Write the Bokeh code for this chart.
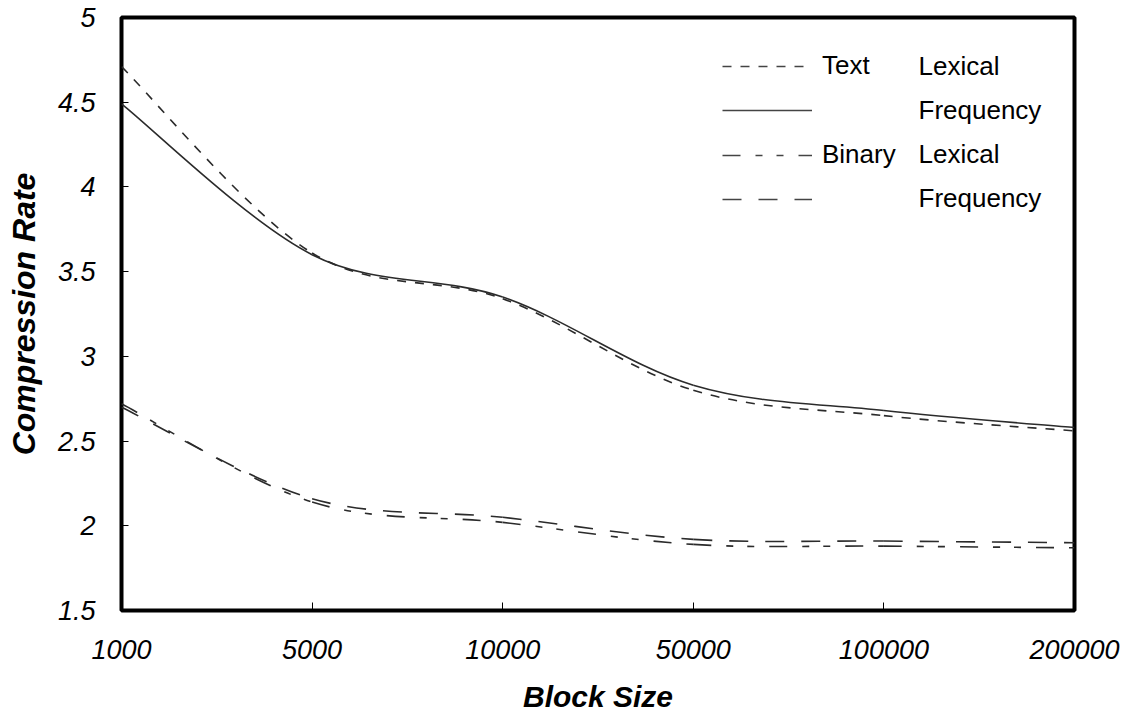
from bokeh.plotting import figure
from bokeh.models import (ColumnDataSource, Range1d, FixedTicker, Legend, LegendItem,
                          Label)
from bokeh.embed import file_html
from bokeh.resources import INLINE

# Block sizes (evenly spaced categories on the x axis)
block_sizes = ["1000", "5000", "10000", "50000", "100000", "200000"]

# Compression rate per block size
text_lexical = [4.71, 3.61, 3.34, 2.80, 2.65, 2.56]
text_frequency = [4.49, 3.60, 3.35, 2.83, 2.68, 2.58]
binary_lexical = [2.72, 2.14, 2.02, 1.89, 1.88, 1.87]
binary_frequency = [2.70, 2.16, 2.05, 1.92, 1.91, 1.90]

y_ticks = [1.5, 2, 2.5, 3, 3.5, 4, 4.5, 5]
y_tick_labels = ["1.5", "2", "2.5", "3", "3.5", "4", "4.5", "5"]

FONT = "Liberation Sans"
LINE = "#2b2b2b"

positions = list(range(len(block_sizes)))

p = figure(width=1126, height=719, output_backend="svg", toolbar_location=None,
           x_range=Range1d(0, len(block_sizes) - 1), y_range=Range1d(1.5, 5))
p.min_border_left = 121
p.min_border_right = 52
p.min_border_top = 17
p.min_border_bottom = 109
p.background_fill_color = "white"
p.border_fill_color = "white"
p.outline_line_color = "black"
p.outline_line_width = 4
p.xgrid.visible = False
p.ygrid.visible = False


def smooth_source(xs, ys):
    """Cubic Bezier pieces through the points (smoothed-line style)."""
    n = len(xs)
    d = dict(x0=[], y0=[], x1=[], y1=[], cx0=[], cy0=[], cx1=[], cy1=[])
    for i in range(n - 1):
        a = i - 1 if i > 0 else i
        b = i + 2 if i + 2 < n else i + 1
        d["x0"].append(xs[i]); d["y0"].append(ys[i])
        d["x1"].append(xs[i + 1]); d["y1"].append(ys[i + 1])
        d["cx0"].append(xs[i] + (xs[i + 1] - xs[a]) / 6)
        d["cy0"].append(ys[i] + (ys[i + 1] - ys[a]) / 6)
        d["cx1"].append(xs[i + 1] - (xs[b] - xs[i]) / 6)
        d["cy1"].append(ys[i + 1] - (ys[b] - ys[i]) / 6)
    return ColumnDataSource(d)


series = [
    ("Text", text_lexical, "9 9"),
    ("", text_frequency, "solid"),
    ("Binary", binary_lexical, "18 15 7 14 7 15"),
    ("", binary_frequency, "19 17"),
]

items = []
for label, values, dash in series:
    p.bezier(x0="x0", y0="y0", x1="x1", y1="y1", cx0="cx0", cy0="cy0",
             cx1="cx1", cy1="cy1", source=smooth_source(positions, values),
             line_color=LINE, line_width=1.6, line_dash=dash)
    # key sample: a renderer with a single undrawn point, used only by the legend
    key = p.line(x=[float("nan")], y=[float("nan")], line_color="#444444",
                 line_width=1.6, line_dash=dash)
    items.append(LegendItem(label=label if label else " ", renderers=[key]))

legend = Legend(items=items, location=(601, 398), orientation="vertical",
                padding=0, margin=0, spacing=16, glyph_width=90, glyph_height=26,
                label_height=26, label_standoff=10,
                label_text_font=FONT, label_text_font_size="26px",
                label_text_color="black",
                border_line_alpha=0, background_fill_alpha=0)
p.add_layout(legend)

for i, word in enumerate(["Lexical", "Frequency", "Lexical", "Frequency"]):
    p.add_layout(Label(x=797, y=545 - i * 44, x_units="screen", y_units="screen",
                       text=word, text_font=FONT, text_font_size="26px",
                       text_color="black", text_baseline="middle"))

# x axis
p.xaxis.ticker = FixedTicker(ticks=positions)
p.xaxis.major_label_overrides = {i: s for i, s in zip(positions, block_sizes)}
p.xaxis.minor_tick_line_color = None
p.xaxis.major_tick_in = 8
p.xaxis.major_tick_out = 0
p.xaxis.major_tick_line_color = "black"
p.xaxis.major_tick_line_width = 1
p.xaxis.axis_line_color = None
p.xaxis.major_label_standoff = 29
p.xaxis.major_label_text_font = FONT
p.xaxis.major_label_text_font_size = "27px"
p.xaxis.major_label_text_font_style = "italic"
p.xaxis.major_label_text_color = "black"
p.xaxis.axis_label = "Block Size"
p.xaxis.axis_label_standoff = 18
p.xaxis.axis_label_text_font = FONT
p.xaxis.axis_label_text_font_size = "30px"
p.xaxis.axis_label_text_font_style = "bold italic"
p.xaxis.axis_label_text_color = "black"

# y axis
p.yaxis.ticker = FixedTicker(ticks=y_ticks)
p.yaxis.major_label_overrides = {t: s for t, s in zip(y_ticks, y_tick_labels)}
p.yaxis.minor_tick_line_color = None
p.yaxis.major_tick_in = 7
p.yaxis.major_tick_out = 0
p.yaxis.major_tick_line_color = "black"
p.yaxis.major_tick_line_width = 1
p.yaxis.axis_line_color = None
p.yaxis.major_label_standoff = 26
p.yaxis.major_label_text_font = FONT
p.yaxis.major_label_text_font_size = "27px"
p.yaxis.major_label_text_font_style = "italic"
p.yaxis.major_label_text_color = "black"
p.yaxis.axis_label = "Compression Rate"
p.yaxis.axis_label_standoff = 13
p.yaxis.axis_label_text_font = FONT
p.yaxis.axis_label_text_font_size = "32px"
p.yaxis.axis_label_text_font_style = "bold italic"
p.yaxis.axis_label_text_color = "black"

open("out.html", "w").write(file_html(p, INLINE))
